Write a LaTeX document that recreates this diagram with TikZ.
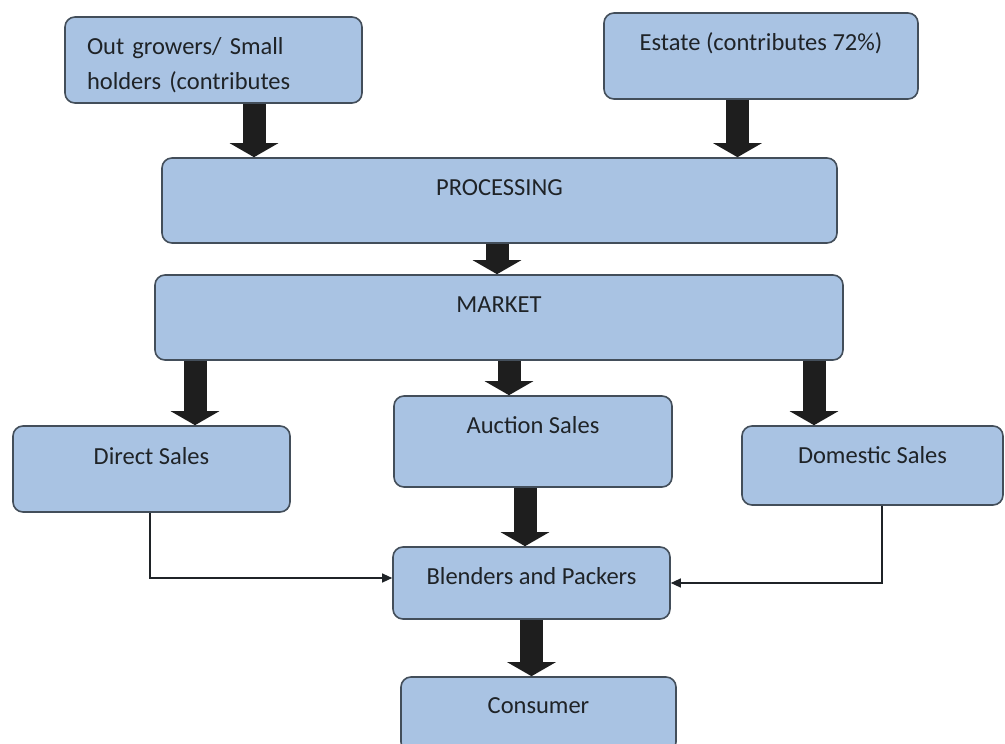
\documentclass[tikz,border=0pt]{standalone}
\usepackage{fontspec}
\setmainfont{Carlito}
\usetikzlibrary{arrows.meta}
\definecolor{boxblue}{HTML}{A9C3E3}
\definecolor{boxedge}{HTML}{434E5A}
\definecolor{inkgray}{HTML}{1F2327}
\definecolor{arrowink}{HTML}{1E1E1E}
\newcommand{\boxfont}{\fontsize{24.5}{35}\selectfont}

\begin{document}
\begin{tikzpicture}[x=1pt,y=-1pt,
  stage/.style={draw=boxedge, line width=1.6pt, fill=boxblue, rounded corners=10pt,
    inner sep=0pt, text=inkgray, font=\boxfont, text height=37pt},
  bigarrow/.style={draw=arrowink, line width=23pt, -{Triangle[width=48pt,length=14pt]}},
  thinarrow/.style={draw=inkgray, line width=1.2pt, -{Triangle[width=9pt,length=10pt]}}]
  \useasboundingbox (0,0) rectangle (1005,744);
  \node[stage, minimum width=297pt, inner xsep=22pt, text width=253pt, align=left,
        text depth=49pt] (grow) at (213.5, 60.0) {Out growers/ Small\\holders (contributes};
  \node[stage, minimum width=314pt, text depth=49pt] (estate)   at (761.0, 56.0) {Estate (contributes 72\%)};
  \node[stage, minimum width=675pt, text depth=48pt] (proc)     at (499.5,200.5) {PROCESSING};
  \node[stage, minimum width=688pt, text depth=48pt] (market)   at (499.0,317.5) {MARKET};
  \node[stage, minimum width=277pt, text height=38pt, text depth=48pt] (direct) at (151.5,469.0) {Direct Sales};
  \node[stage, minimum width=278pt, text depth=54pt] (auction)  at (533.0,441.5) {Auction Sales};
  \node[stage, minimum width=261pt, text depth=42pt] (domestic) at (872.5,465.5) {Domestic Sales};
  \node[stage, minimum width=277pt, text depth=35pt] (blend)    at (531.5,583.0) {Blenders and Packers};
  \node[stage, minimum width=275pt, text height=36pt, text depth=39pt] (cons) at (538.5,714.5) {Consumer};
  \draw[bigarrow] ([xshift= 40.5pt]grow.south)   -- ([xshift= 40.5pt]grow.south |- proc.north);
  \draw[bigarrow] ([xshift=-23.5pt]estate.south) -- ([xshift=-23.5pt]estate.south |- proc.north);
  \draw[bigarrow] ([xshift=-2.5pt]proc.south)    -- ([xshift=-2.5pt]proc.south |- market.north);
  \draw[bigarrow] ([xshift= 43.5pt]direct.north |- market.south)   -- ([xshift= 43.5pt]direct.north);
  \draw[bigarrow] ([xshift=-24pt]auction.north |- market.south)    -- ([xshift=-24pt]auction.north);
  \draw[bigarrow] ([xshift=-58.5pt]domestic.north |- market.south) -- ([xshift=-58.5pt]domestic.north);
  \draw[bigarrow] ([xshift=-8pt]auction.south) -- ([xshift=-8pt]auction.south |- blend.north);
  \draw[bigarrow] (blend.south) -- (blend.south |- cons.north);
  \draw[thinarrow] ([xshift=-1.5pt]direct.south) |- ([yshift=5pt]blend.west);
  \draw[thinarrow] ([xshift=9.5pt]domestic.south) |- (blend.east);
\end{tikzpicture}
\end{document}
